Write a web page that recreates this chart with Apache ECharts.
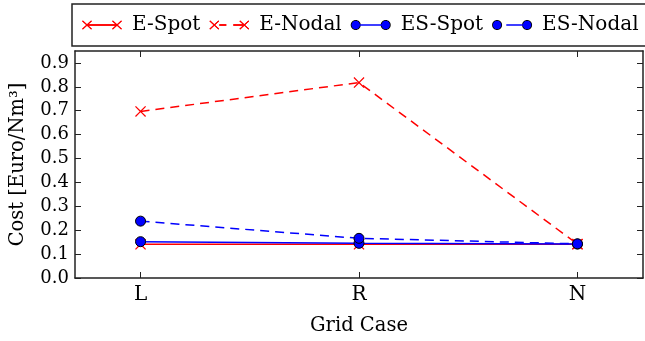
<!DOCTYPE html>
<html>
<head>
<meta charset="utf-8">
<script src="https://cdn.jsdelivr.net/npm/echarts@6/dist/echarts.min.js"></script>
<style>html,body{margin:0;padding:0;background:#fff}#c{width:645px;height:341px}</style>
</head>
<body>
<div id="c"></div>
<script>
const categories = ['L', 'R', 'N'];
const eSpot = [0.141, 0.141, 0.141];
const eNodal = [0.697, 0.818, 0.142];
const esSpot = [0.152, 0.145, 0.142];
const esNodal = [0.238, 0.166, 0.143];
const yTicks = [0.0, 0.1, 0.2, 0.3, 0.4, 0.5, 0.6, 0.7, 0.8, 0.9];
const seriesNames = ['E-Spot', 'E-Nodal', 'ES-Spot', 'ES-Nodal'];

const FONT = 'DejaVu Serif';
const RED = '#ff0000', BLUE = '#0000ff';
const crossPath = 'path://M0,0.8 L0.8,0 L5,4.2 L9.2,0 L10,0.8 L5.8,5 L10,9.2 L9.2,10 L5,5.8 L0.8,10 L0,9.2 L4.2,5 Z';
const xIdx = categories.map((c, i) => i);
const pts = arr => arr.map((v, i) => [i, v]);

// ---- legend icon geometry (icon box 40 x 10) ----
const f = n => n.toFixed(2);
function seg(x1, y1, x2, y2, w) {
  const dx = x2 - x1, dy = y2 - y1, L = Math.hypot(dx, dy);
  const nx = -dy / L * w / 2, ny = dx / L * w / 2;
  return 'M' + f(x1 + nx) + ',' + f(y1 + ny) + 'L' + f(x2 + nx) + ',' + f(y2 + ny) +
    'L' + f(x2 - nx) + ',' + f(y2 - ny) + 'L' + f(x1 - nx) + ',' + f(y1 - ny) + 'Z';
}
function circ(cx, cy, r) {
  let s = '';
  for (let k = 0; k <= 32; k++) {
    const a = -k / 32 * Math.PI * 2;
    s += (k === 0 ? 'M' : 'L') + f(cx + r * Math.cos(a)) + ',' + f(cy + r * Math.sin(a));
  }
  return s + 'Z';
}
const guard = 'M0,0L0,0M40,10L40,10';
function crossAt(cx) { return seg(cx - 4.5, 0.8, cx + 4.5, 9.2, 1.1) + seg(cx - 4.5, 9.2, cx + 4.5, 0.8, 1.1); }
function lineParts(dashed, a, b) {
  if (!dashed) return seg(a, 5, b, 5, 1.5);
  return seg(a + 5, 5, a + 12, 5, 1.5) + seg(b - 11, 5, b, 5, 1.5);
}
const iconE = d => 'path://' + guard + crossAt(5) + crossAt(35) + lineParts(d, 5, 35);
const iconES = d => 'path://' + guard + circ(5, 5, 4.2) + circ(35, 5, 4.2) + lineParts(d, 9.2, 30.8);
const iconESback = 'path://' + guard + circ(5, 5, 5) + circ(35, 5, 5);

function mkSeries(name, data, color, dashed, isCross) {
  return {
    name: name, type: 'line', data: pts(data),
    symbol: isCross ? crossPath : 'circle',
    symbolSize: isCross ? 11 : 10,
    lineStyle: { color: color, width: 1.5, type: dashed ? [9, 6] : 'solid' },
    itemStyle: isCross ? { color: color } : { color: color, borderColor: '#000', borderWidth: 1 },
    emphasis: { disabled: true },
    animation: false
  };
}

const legendBase = {
  left: 72, top: 4, width: 571,
  itemWidth: 40, itemHeight: 10, itemGap: 9,
  padding: [11, 12, 11, 10],
  selectedMode: false,
  itemStyle: { borderWidth: 0 },
  lineStyle: { width: 0 }
};
const legendBack = Object.assign({}, legendBase, {
  data: [
    { name: seriesNames[0], icon: iconE(false), itemStyle: { color: RED, borderWidth: 0 } },
    { name: seriesNames[1], icon: iconE(true), itemStyle: { color: RED, borderWidth: 0 } },
    { name: seriesNames[2], icon: iconESback, itemStyle: { color: '#000', borderWidth: 0 } },
    { name: seriesNames[3], icon: iconESback, itemStyle: { color: '#000', borderWidth: 0 } }
  ],
  textStyle: { fontFamily: FONT, fontSize: 20, color: 'rgba(0,0,0,0)', padding: [0, 0, 0, 5] }
});
const legendFront = Object.assign({}, legendBase, {
  data: [
    { name: seriesNames[0], icon: iconE(false), itemStyle: { color: RED, borderWidth: 0 } },
    { name: seriesNames[1], icon: iconE(true), itemStyle: { color: RED, borderWidth: 0 } },
    { name: seriesNames[2], icon: iconES(false), itemStyle: { color: BLUE, borderWidth: 0 } },
    { name: seriesNames[3], icon: iconES(true), itemStyle: { color: BLUE, borderWidth: 0 } }
  ],
  borderColor: '#222', borderWidth: 1.5,
  textStyle: { fontFamily: FONT, fontSize: 20, color: '#000', padding: [0, 0, 0, 5] }
});

const chart = echarts.init(document.getElementById('c'), null, { renderer: 'canvas' });
const baseX = {
  type: 'value', min: -0.3, max: 2.3,
  splitLine: { show: false },
  axisLine: { show: true, onZero: false, lineStyle: { color: '#222', width: 1.5 } },
  axisTick: { show: true, inside: true, length: 6, customValues: xIdx, lineStyle: { color: '#222', width: 1 } }
};
const baseY = {
  type: 'value', min: 0, max: 0.95,
  splitLine: { show: false },
  axisLine: { show: true, onZero: false, lineStyle: { color: '#222', width: 1.5 } },
  axisTick: { show: true, inside: true, length: 6, customValues: yTicks, lineStyle: { color: '#222', width: 1 } }
};
chart.setOption({
  animation: false,
  grid: { left: 72, right: 2, top: 51, bottom: 59, containLabel: false },
  legend: [legendBack, legendFront],
  xAxis: [
    Object.assign({}, baseX, {
      position: 'bottom',
      name: 'Grid Case', nameLocation: 'middle', nameGap: 38,
      nameTextStyle: { fontFamily: FONT, fontSize: 19.5, color: '#000' },
      axisLabel: { show: true, customValues: xIdx, margin: 7, fontFamily: FONT, fontSize: 20, color: '#000',
        formatter: v => categories[Math.round(v)] }
    }),
    Object.assign({}, baseX, { position: 'top', axisLabel: { show: false } })
  ],
  yAxis: [
    Object.assign({}, baseY, {
      position: 'left',
      name: 'Cost [Euro/Nm³]', nameLocation: 'middle', nameGap: 47,
      nameTextStyle: { fontFamily: FONT, fontSize: 19.5, color: '#000' },
      axisLabel: { show: true, customValues: yTicks, margin: 6, fontFamily: FONT, fontSize: 18, color: '#000',
        formatter: v => v.toFixed(1) }
    }),
    Object.assign({}, baseY, { position: 'right', axisLabel: { show: false } })
  ],
  series: [
    mkSeries(seriesNames[0], eSpot, RED, false, true),
    mkSeries(seriesNames[1], eNodal, RED, true, true),
    mkSeries(seriesNames[2], esSpot, BLUE, false, false),
    mkSeries(seriesNames[3], esNodal, BLUE, true, false)
  ]
});
</script>
</body>
</html>
